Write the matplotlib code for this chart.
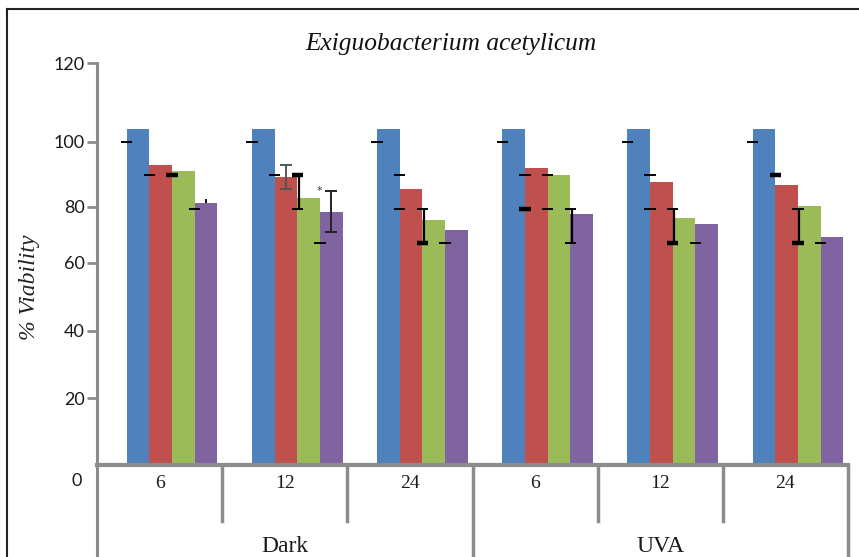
import matplotlib.pyplot as plt
from matplotlib.lines import Line2D

# viability (%) per exposure time, four treatments per time point
groups = ['Dark', 'UVA']
times = ['6', '12', '24', '6', '12', '24']
blue = [100, 100, 100, 100, 100, 100]
red = [89.3, 85.8, 82.0, 88.5, 84.3, 83.3]
green = [87.6, 79.4, 72.9, 86.3, 73.4, 77.1]
purple = [77.9, 75.4, 69.9, 74.6, 71.7, 67.9]

ytick_vals = [19.9, 39.9, 60.1, 76.8, 96.1, 119.6]
ytick_labels = ['20', '40', '60', '80', '100', '120']

# cap marks sitting on the left edge of a bar: (time index, series, value, heavy)
edge_caps = [(i, 0, 96.0, False) for i in range(6)] + [
    (0, 1, 86.2, False), (0, 2, 86.2, True), (0, 3, 76.3, False),
    (1, 1, 86.2, False), (1, 2, 86.2, True), (1, 2, 76.3, False), (1, 3, 65.9, False),
    (2, 1, 86.2, False), (2, 1, 76.3, False), (2, 2, 76.3, False), (2, 2, 65.9, True),
    (2, 3, 65.9, False),
    (3, 1, 86.2, False), (3, 1, 76.3, True), (3, 2, 86.2, False), (3, 2, 76.3, False),
    (3, 3, 76.3, False), (3, 3, 65.9, False),
    (4, 1, 86.2, False), (4, 1, 76.3, False), (4, 2, 76.3, False), (4, 2, 65.9, True),
    (4, 3, 65.9, False),
    (5, 1, 86.2, True), (5, 2, 76.3, False), (5, 2, 65.9, True), (5, 3, 65.9, False),
]
# vertical links between caps on a bar edge: (time index, series, low, high)
edge_links = [(1, 2, 76.3, 86.2), (2, 2, 65.9, 76.3), (3, 3, 65.9, 76.3),
              (4, 2, 65.9, 76.3), (5, 2, 65.9, 76.3)]
# centred error bars: (time index, series, minus, plus, colour, capped)
center_err = [(0, 3, 0.0, 1.3, '#111111', False),
              (1, 1, 3.6, 3.6, '#555555', True),
              (1, 3, 6.2, 6.2, '#222222', True)]

colors = ['#4F81BD', '#C0504D', '#9BBB59', '#8064A2']
series = [blue, red, green, purple]
axis_grey = '#8c8c8c'
width = 0.181
shift = 0.1

fig = plt.figure(figsize=(8.59, 5.57), dpi=100)
W, H = 859, 557
ax = fig.add_axes([97 / W, 1 - 465 / H, (848 - 97) / W, (465 - 63) / H])

def bar_x(i, j):
    return i + shift + (j - 1.5) * width

for j, vals in enumerate(series):
    xs = [bar_x(i, j) for i in range(len(vals))]
    ax.bar(xs, vals, width=width, color=colors[j], linewidth=0, zorder=2)

for i, j, v, heavy in edge_caps:
    x = bar_x(i, j) - width / 2
    ax.hlines(v, x - 0.045, x + 0.045, color='black', lw=3.2 if heavy else 1.4, zorder=4)

for i, j, lo, hi in edge_links:
    x = bar_x(i, j) - width / 2 + 0.01
    ax.vlines(x, lo, hi, color='black', lw=1.6, zorder=4)

for i, j, lo, hi, c, capped in center_err:
    v = series[j][i]
    ax.errorbar(bar_x(i, j), v, yerr=[[lo], [hi]], fmt='none', ecolor=c,
                elinewidth=1.4, capsize=4 if capped else 0, capthick=1.4, zorder=5)

ax.text(bar_x(1, 2) + width / 2 - 0.005, green[1] + 0.6, '*', fontsize=8,
        ha='center', va='bottom', color='#333333', zorder=5)

ax.set_xlim(-0.5, 5.5)
ax.set_ylim(0, 119.6)
ax.set_yticks(ytick_vals)
ax.set_yticklabels(ytick_labels, family='Lato', fontsize=13, color='#1a1a1a')
ax.tick_params(axis='y', direction='out', length=7, width=2, color=axis_grey, pad=2)
ax.set_xticks([])

for s in ['top', 'right']:
    ax.spines[s].set_visible(False)
ax.spines['left'].set_color(axis_grey)
ax.spines['left'].set_linewidth(2.2)
ax.spines['bottom'].set_color(axis_grey)
ax.spines['bottom'].set_linewidth(3)

# two-level category axis
trans = ax.get_xaxis_transform()
ax_h = 465 - 63
ax.plot([-0.5, -0.5], [0, -(560 - 465) / ax_h], transform=trans, color=axis_grey,
        lw=2.2, clip_on=False)
for k in range(1, 6):
    low = -(560 - 465) / ax_h if k == 3 else -(521 - 465) / ax_h
    ax.plot([k - 0.5, k - 0.5], [0, low], transform=trans, color=axis_grey,
            lw=2.5, clip_on=False)
ax.plot([5.5, 5.5], [0, -(560 - 465) / ax_h], transform=trans, color=axis_grey,
        lw=2.5, clip_on=False)

for i, t in enumerate(times):
    ax.text(i, -(483 - 465) / ax_h, t, transform=trans, ha='center', va='center',
            family='Liberation Serif', fontsize=14, color='#1a1a1a')
for g, name in enumerate(groups):
    ax.text(1 + 3 * g, -(546 - 465) / ax_h, name, transform=trans, ha='center',
            va='center', family='Liberation Serif', fontsize=17, color='#1a1a1a')

fig.text(77 / W, 1 - 481 / H, '0', family='Lato', fontsize=13, color='#1a1a1a',
         ha='center', va='center')
fig.text(451 / W, 1 - 44 / H, 'Exiguobacterium acetylicum', family='Liberation Serif',
         style='italic', fontsize=18.3, ha='center', va='center', color='#111111')
fig.text(30 / W, 1 - 287 / H, '% Viability', family='Liberation Serif', style='italic',
         fontsize=17, rotation=90, ha='center', va='center', color='#222222')

# outer frame (left and top edges)
fig.add_artist(Line2D([7 / W, 7 / W], [0, 1 - 9 / H], color='#222222', lw=1.5))
fig.add_artist(Line2D([7 / W, 1], [1 - 9 / H, 1 - 9 / H], color='#222222', lw=1.5))

fig.savefig('out.png', dpi=100)
